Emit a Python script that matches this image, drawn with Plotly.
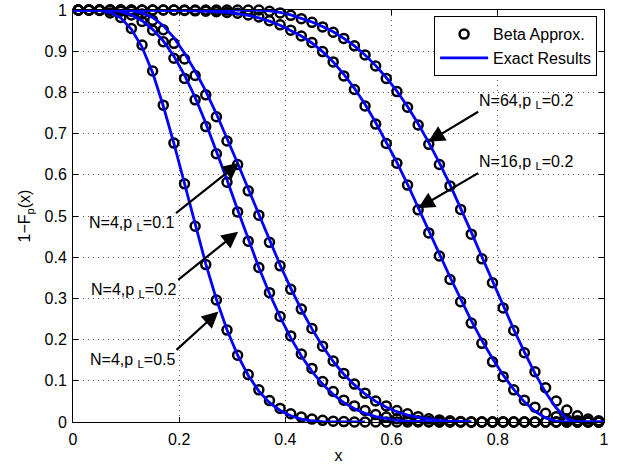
import plotly.graph_objects as go

# ---------------- data ----------------
x_beta = [round(0.01 + 0.02 * i, 2) for i in range(50)]

beta_n4_p05 = [1.000, 1.000, 0.999, 0.993, 0.982, 0.955, 0.915, 0.852, 0.769, 0.677,
               0.578, 0.475, 0.382, 0.296, 0.223, 0.162, 0.115, 0.078, 0.052, 0.033,
               0.020, 0.012, 0.007, 0.004, 0.002, 0.001, 0.0, 0.0, 0.0, 0.0,
               0.0, 0.0, 0.0, 0.0, 0.0, 0.0, 0.0, 0.0, 0.0, 0.0,
               0.0, 0.0, 0.0, 0.0, 0.0, 0.0, 0.0, 0.0, 0.0, 0.0]
beta_n4_p02 = [1.000, 1.000, 1.000, 1.000, 0.997, 0.988, 0.972, 0.951, 0.923, 0.883,
               0.834, 0.782, 0.717, 0.651, 0.582, 0.510, 0.439, 0.375, 0.314, 0.256,
               0.209, 0.165, 0.130, 0.098, 0.074, 0.053, 0.039, 0.028, 0.018, 0.012,
               0.008, 0.005, 0.003, 0.001, 0.0, 0.0, 0.0, 0.0, 0.0, 0.0,
               0.0, 0.0, 0.0, 0.0, 0.0, 0.0, 0.0, 0.0, 0.0, 0.0]
beta_n4_p01 = [1.000, 1.000, 1.000, 1.000, 1.000, 0.997, 0.990, 0.975, 0.952, 0.919,
               0.881, 0.841, 0.794, 0.741, 0.682, 0.625, 0.561, 0.502, 0.436, 0.379,
               0.322, 0.274, 0.227, 0.184, 0.148, 0.118, 0.092, 0.070, 0.051, 0.039,
               0.028, 0.020, 0.013, 0.008, 0.005, 0.003, 0.001, 0.0, 0.0, 0.0,
               0.0, 0.0, 0.0, 0.0, 0.0, 0.0, 0.0, 0.0, 0.0, 0.0]
beta_n16_p02 = [1.000, 1.000, 1.000, 1.000, 1.000, 1.000, 1.000, 1.000, 1.000, 1.000,
                0.999, 0.998, 0.997, 0.996, 0.994, 0.992, 0.988, 0.983, 0.974, 0.964,
                0.951, 0.937, 0.921, 0.899, 0.874, 0.840, 0.807, 0.767, 0.723, 0.676,
                0.628, 0.575, 0.515, 0.459, 0.403, 0.346, 0.292, 0.240, 0.191, 0.146,
                0.110, 0.078, 0.053, 0.036, 0.021, 0.013, 0.006, 0.003, 0.001, 0.0]
beta_n64_p02 = [1.000, 1.000, 1.000, 1.000, 1.000, 1.000, 1.000, 1.000, 1.000, 1.000,
                1.000, 1.000, 1.000, 1.000, 1.000, 1.000, 1.000, 1.000, 0.997, 0.993,
                0.987, 0.979, 0.970, 0.959, 0.946, 0.931, 0.913, 0.891, 0.864, 0.834,
                0.802, 0.764, 0.721, 0.674, 0.625, 0.573, 0.516, 0.456, 0.396, 0.338,
                0.277, 0.222, 0.168, 0.122, 0.083, 0.051, 0.029, 0.015, 0.007, 0.003]

# exact results (lines)
x_exact_a = [0.0] + x_beta[:27] + [0.55]
exact_n4_p05 = [1.0, 1.000, 1.000, 0.999, 0.994, 0.981, 0.953, 0.910, 0.848, 0.767, 0.676,
                0.578, 0.478, 0.384, 0.298, 0.224, 0.162, 0.113, 0.075, 0.047, 0.028,
                0.015, 0.007, 0.003, 0.001, 0.0, 0.0, 0.0, 0.0]
x_exact_b = [0.0] + x_beta[:37] + [0.75]
exact_n4_p02 = [1.0, 1.000, 1.000, 1.000, 0.999, 0.996, 0.988, 0.974, 0.953, 0.925, 0.888,
                0.842, 0.788, 0.726, 0.659, 0.588, 0.515, 0.443, 0.375, 0.312, 0.255,
                0.204, 0.160, 0.123, 0.092, 0.067, 0.047, 0.032, 0.021, 0.013, 0.008,
                0.004, 0.002, 0.001, 0.0, 0.0, 0.0, 0.0, 0.0]
exact_n4_p01 = [1.0, 1.000, 1.000, 1.000, 1.000, 1.000, 0.998, 0.993, 0.982, 0.962, 0.933,
                0.895, 0.852, 0.803, 0.748, 0.689, 0.628, 0.566, 0.503, 0.441, 0.381,
                0.325, 0.273, 0.226, 0.184, 0.147, 0.116, 0.090, 0.068, 0.050, 0.036,
                0.025, 0.017, 0.011, 0.007, 0.004, 0.002, 0.001, 0.0]
x_exact_de = [0.0] + x_beta + [1.0]
exact_n16_p02 = [1.0, 1.000, 1.000, 1.000, 1.000, 1.000, 1.000, 1.000, 1.000, 1.000, 1.000,
                 0.999, 0.998, 0.997, 0.996, 0.994, 0.991, 0.987, 0.981, 0.973, 0.963,
                 0.951, 0.937, 0.920, 0.899, 0.874, 0.844, 0.810, 0.771, 0.727, 0.680,
                 0.630, 0.577, 0.522, 0.465, 0.408, 0.352, 0.298, 0.246, 0.198, 0.154,
                 0.114, 0.079, 0.049, 0.026, 0.010, 0.002, 0.0, 0.0, 0.0, 0.0, 0.0]
exact_n64_p02 = [1.0, 1.000, 1.000, 1.000, 1.000, 1.000, 1.000, 1.000, 1.000, 1.000, 1.000,
                 1.000, 1.000, 1.000, 1.000, 1.000, 1.000, 1.000, 1.000, 0.998, 0.994,
                 0.988, 0.980, 0.971, 0.960, 0.947, 0.931, 0.913, 0.891, 0.865, 0.836,
                 0.803, 0.766, 0.724, 0.678, 0.629, 0.576, 0.520, 0.461, 0.401, 0.341,
                 0.282, 0.225, 0.170, 0.118, 0.072, 0.034, 0.008, 0.0, 0.0, 0.0, 0.0]

x_ticks = [0, 0.2, 0.4, 0.6, 0.8, 1]
x_tick_text = ["0", "0.2", "0.4", "0.6", "0.8", "1"]
y_ticks = [0, 0.1, 0.2, 0.3, 0.4, 0.5, 0.6, 0.7, 0.8, 0.9, 1]
y_tick_text = ["0", "0.1", "0.2", "0.3", "0.4", "0.5", "0.6", "0.7", "0.8", "0.9", "1"]

# annotation labels: text, arrow tail (x, y) where the label sits, arrow head (x, y)
ann_labels = ["N=4,p <sub>L</sub>=0.1", "N=4,p <sub>L</sub>=0.2", "N=4,p <sub>L</sub>=0.5",
              "N=64,p <sub>L</sub>=0.2", "N=16,p <sub>L</sub>=0.2"]
ann_xanchor = ["right", "right", "right", "left", "left"]
ann_yanchor = ["top", "top", "top", "bottom", "bottom"]
ann_tail_x = [0.194, 0.198, 0.195, 0.763, 0.763]
ann_tail_y = [0.507, 0.345, 0.175, 0.753, 0.604]
ann_head_x = [0.313, 0.311, 0.274, 0.669, 0.650]
ann_head_y = [0.629, 0.462, 0.268, 0.680, 0.519]

# ---------------- figure ----------------
FONT = "Liberation Sans, Arial, Helvetica, sans-serif"
FS = 16
fig = go.Figure()

beta_sets = [beta_n4_p05, beta_n4_p02, beta_n4_p01, beta_n16_p02, beta_n64_p02]
exact_sets = [(x_exact_a, exact_n4_p05), (x_exact_b, exact_n4_p02), (x_exact_b, exact_n4_p01),
              (x_exact_de, exact_n16_p02), (x_exact_de, exact_n64_p02)]

for i, yb in enumerate(beta_sets):
    fig.add_trace(go.Scatter(
        x=x_beta, y=yb, mode="markers", name="Beta Approx.",
        showlegend=(i == 0),
        marker=dict(symbol="circle-open", size=9, color="black", line=dict(width=2.5, color="black")),
        cliponaxis=False,
    ))

for i, (xe, ye) in enumerate(exact_sets):
    fig.add_trace(go.Scatter(
        x=xe, y=ye, mode="lines", name="Exact Results",
        showlegend=(i == 0),
        line=dict(color="#0000FF", width=2.8),
    ))

for i in range(len(ann_labels)):
    fig.add_annotation(x=ann_head_x[i], y=ann_head_y[i], xref="x", yref="y",
                       ax=ann_tail_x[i], ay=ann_tail_y[i], axref="x", ayref="y",
                       text=ann_labels[i], xanchor=ann_xanchor[i], yanchor=ann_yanchor[i],
                       showarrow=True, arrowhead=2, arrowsize=1.5, arrowwidth=2.2,
                       arrowcolor="black", standoff=0, startstandoff=0, borderpad=0,
                       font=dict(family=FONT, size=FS, color="black"))

axis_common = dict(
    showline=True, linecolor="black", linewidth=1, mirror="ticks",
    ticks="inside", ticklen=5, tickcolor="black",
    showgrid=True, gridcolor="#555555", griddash="1px,4px", gridwidth=1,
    zeroline=False, automargin=False,
    tickfont=dict(family=FONT, size=FS, color="black"),
)

fig.update_xaxes(range=[0, 1], tickvals=x_ticks, ticktext=x_tick_text, ticklabelstandoff=3,
                 title=dict(text="x", font=dict(family=FONT, size=FS, color="black"), standoff=8),
                 **axis_common)
fig.update_yaxes(range=[0, 1], tickvals=y_ticks, ticktext=y_tick_text, ticklabelstandoff=2,
                 title=dict(text="1\u2212F<sub>p</sub>(x)", font=dict(family=FONT, size=FS, color="black"), standoff=9),
                 **axis_common)

fig.update_layout(
    width=618, height=464,
    margin=dict(l=73, r=14, t=10, b=42, autoexpand=False),
    paper_bgcolor="white", plot_bgcolor="white",
    font=dict(family=FONT, size=FS, color="black"),
    legend=dict(x=0.987, y=0.985, xanchor="right", yanchor="top",
                bordercolor="black", borderwidth=1, bgcolor="white",
                font=dict(family=FONT, size=FS, color="black"),
                itemwidth=48, tracegroupgap=0),
    showlegend=True,
)

fig.write_html("out.html")
